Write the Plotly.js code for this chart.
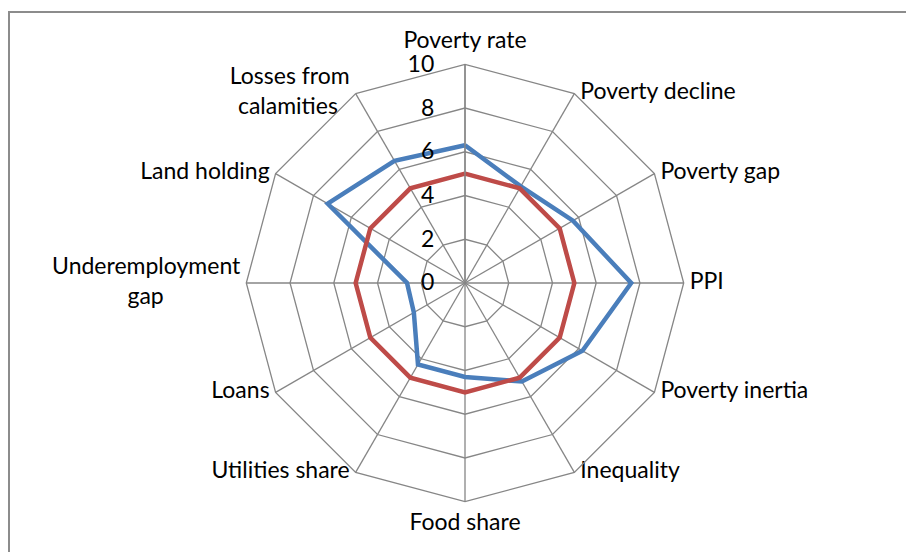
<!DOCTYPE html>
<html>
<head>
<meta charset="utf-8">
<script src="https://cdn.plot.ly/plotly-3.0.1.min.js"></script>
<style>
  html, body { margin: 0; padding: 0; background: #ffffff; }
  #chart { width: 906px; height: 552px; }
</style>
</head>
<body>
<div id="chart"></div>
<script>
const NB = "\u00A0";
const categories = [
  "Poverty rate", "Poverty decline", "Poverty gap", "PPI", "Poverty inertia",
  "Inequality", "Food share", "Utilities share", "Loans",
  "Underemployment gap", "Land holding", "Losses from calamities"
];
const categoryLabels = [
  "Poverty rate", "Poverty decline", "Poverty gap", "PPI", "Poverty inertia",
  "Inequality", "Food share", "Utilities share", "Loans",
  "Underemployment<br>gap" + NB.repeat(13), "Land holding",
  "Losses from<br>calamities" + NB.repeat(2)
];
const seriesBlue = [6.3, 5.1, 5.7, 7.6, 6.2, 5.2, 4.3, 4.3, 2.7, 2.65, 7.25, 6.45];
const seriesRed  = [5, 5, 5, 5, 5, 5, 5, 5, 5, 5, 5, 5];
const radialTicks = [0, 2, 4, 6, 8, 10];
const radialMax = 10;

function closed(arr) { return arr.concat([arr[0]]); }

// label placement derived from each category's angle (clockwise from top)
const n = categories.length;
function posFor(i) {
  const a = 2 * Math.PI * i / n;
  const s = Math.sin(a), c = Math.cos(a);
  if (s > 0.01) return "middle right";
  if (s < -0.01) return "middle left";
  return c > 0 ? "top center" : "bottom center";
}
const sideIdx = categories.map((_, i) => i).filter(i => posFor(i).startsWith("middle"));
const poleIdx = categories.map((_, i) => i).filter(i => !posFor(i).startsWith("middle"));

function labelTrace(idx, markerSize) {
  return {
    type: "scatterpolar", mode: "markers+text",
    r: idx.map(() => radialMax),
    theta: idx.map(i => categories[i]),
    text: idx.map(i => categoryLabels[i]),
    textposition: idx.map(posFor),
    textfont: { family: "Lato, 'Liberation Sans', sans-serif", size: 23, color: "#000000" },
    marker: { size: markerSize, color: "rgba(0,0,0,0)" },
    cliponaxis: false, hoverinfo: "none", showlegend: false
  };
}

const traces = [
  {
    type: "scatterpolar", mode: "lines",
    r: closed(seriesBlue), theta: closed(categories),
    line: { color: "#4A7EBB", width: 4.5 },
    hoverinfo: "none", showlegend: false
  },
  {
    type: "scatterpolar", mode: "lines",
    r: closed(seriesRed), theta: closed(categories),
    line: { color: "#BE4B48", width: 4.5 },
    hoverinfo: "none", showlegend: false
  },
  labelTrace(sideIdx, 8),
  labelTrace(poleIdx, 16)
];

const W = 906, H = 552;
const cx = 465, cy = 283, R = 218.7;

const layout = {
  width: W, height: H,
  margin: { l: 0, r: 0, t: 0, b: 0 },
  paper_bgcolor: "#ffffff",
  showlegend: false,
  font: { family: "Lato, 'Liberation Sans', sans-serif", size: 23, color: "#000000" },
  polar: {
    domain: {
      x: [(cx - R) / W, (cx + R) / W],
      y: [(H - cy - R) / H, (H - cy + R) / H]
    },
    bgcolor: "#ffffff",
    gridshape: "linear",
    angularaxis: {
      rotation: 90, direction: "clockwise",
      type: "category",
      categoryarray: categories,
      showticklabels: false,
      showline: true, linecolor: "#868686", linewidth: 1.3,
      gridcolor: "#868686", gridwidth: 1.3,
      ticks: ""
    },
    radialaxis: {
      range: [0, radialMax], angle: 90,
      tickvals: radialTicks, ticktext: radialTicks.map(String),
      side: "counterclockwise",
      showline: true, linecolor: "#868686", linewidth: 1.3,
      gridcolor: "#868686", gridwidth: 1.3,
      ticks: "outside", ticklen: 22, tickcolor: "rgba(0,0,0,0)",
      tickangle: 90,
      tickfont: { size: 23, color: "#000000" }
    }
  },
  shapes: [
    {
      type: "rect", xref: "paper", yref: "paper",
      x0: 9 / W, x1: 1.05, y0: -0.05, y1: 1 - 12 / H,
      line: { color: "#8C8C8C", width: 2 }, fillcolor: "rgba(0,0,0,0)",
      layer: "below"
    }
  ]
};

Plotly.newPlot("chart", traces, layout, { staticPlot: true, displayModeBar: false });
</script>
</body>
</html>
